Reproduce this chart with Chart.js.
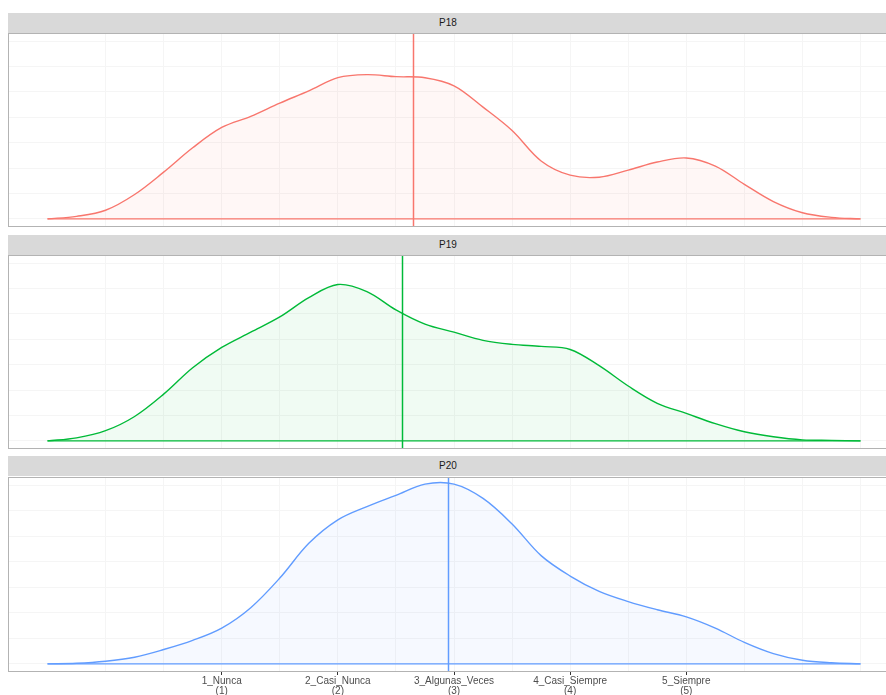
<!DOCTYPE html>
<html>
<head>
<meta charset="utf-8">
<script src="https://cdn.jsdelivr.net/npm/chart.js@4/dist/chart.umd.min.js"></script>
<style>
  html, body { margin: 0; padding: 0; background: #fff; overflow: hidden; width: 886px; height: 695px; }
  .strip { position: absolute; left: 8px; width: 892px; height: 20px; background: #d9d9d9;
           font: 10px "Liberation Sans", Arial, sans-serif; color: #1a1a1a; line-height: 20px; }
  .strip span { position: absolute; left: 0; width: 880px; text-align: center; }
  canvas { position: absolute; left: 8px; }
</style>
</head>
<body>
<div class="strip" style="top:13px"><span>P18</span></div>
<div class="strip" style="top:235px"><span>P19</span></div>
<div class="strip" style="top:456px"><span>P20</span></div>
<canvas id="c18" width="892" height="194" style="top:33px"></canvas>
<canvas id="c19" width="892" height="194" style="top:255px"></canvas>
<canvas id="c20" width="892" height="220" style="top:477px"></canvas>
<script>
// density estimates, x = response value
const xGrid = [-0.5, -0.25, 0, 0.25, 0.5, 0.75, 1, 1.25, 1.5, 1.75, 2, 2.25, 2.5, 2.75, 3,
               3.25, 3.5, 3.75, 4, 4.25, 4.5, 4.75, 5, 5.25, 5.5, 5.75, 6, 6.25, 6.5];

const p18 = [0, 0.005, 0.017, 0.048, 0.092, 0.14, 0.18, 0.202, 0.228, 0.252, 0.278, 0.284, 0.28, 0.278, 0.262,
             0.22, 0.174, 0.114, 0.086, 0.082, 0.096, 0.112, 0.12, 0.104, 0.068, 0.034, 0.012, 0.003, 0];
const p19 = [0, 0.006, 0.02, 0.048, 0.092, 0.144, 0.184, 0.214, 0.244, 0.282, 0.308, 0.294, 0.258, 0.23, 0.214,
             0.198, 0.19, 0.186, 0.18, 0.148, 0.108, 0.074, 0.054, 0.034, 0.018, 0.008, 0.002, 0.001, 0];
const p20 = [0, 0.001, 0.005, 0.013, 0.028, 0.046, 0.07, 0.11, 0.168, 0.236, 0.282, 0.308, 0.33, 0.352, 0.352,
             0.324, 0.274, 0.212, 0.172, 0.142, 0.122, 0.106, 0.092, 0.07, 0.042, 0.02, 0.007, 0.002, 0];

const means = [2.65, 2.55, 2.95];

const tickValues = [1, 2, 3, 4, 5];
const tickLabels = [['1_Nunca', '(1)'], ['2_Casi_Nunca', '(2)'], ['3_Algunas_Veces', '(3)'],
                    ['4_Casi_Siempre', '(4)'], ['5_Siempre', '(5)']];
const xGridLines = [0, 0.5, 1, 1.5, 2, 2.5, 3, 3.5, 4, 4.5, 5, 5.5, 6, 6.5];
const yGridLines = [0, 0.05, 0.1, 0.15, 0.2, 0.25, 0.3, 0.35];

Chart.defaults.font.family = '"Liberation Sans", Arial, sans-serif';

function rgba(hex, a) {
    const n = parseInt(hex.slice(1), 16);
    return 'rgba(' + (n >> 16) + ',' + ((n >> 8) & 255) + ',' + (n & 255) + ',' + a + ')';
}

function makePanel(canvasId, values, mean, color, showAxis) {
    const ctx = document.getElementById(canvasId).getContext('2d');

    return new Chart(ctx, {
        type: 'line',
        data: {
            datasets: [{
                data: xGrid.map((x, i) => ({ x: x, y: values[i] })),
                borderColor: color,
                backgroundColor: rgba(color, 0.06),
                borderWidth: 1.4,
                pointRadius: 0,
                fill: 'origin',
                tension: 0.35
            }, {
                // bottom outline of the density area
                data: xGrid.map(x => ({ x: x, y: 0 })),
                borderColor: color,
                borderWidth: 1.4,
                pointRadius: 0,
                fill: false
            }]
        },
        options: {
            responsive: false,
            animation: false,
            devicePixelRatio: 1,
            layout: { padding: 0 },
            plugins: {
                legend: { display: false },
                tooltip: { enabled: false }
            },
            scales: {
                x: {
                    type: 'linear',
                    min: -0.84,
                    max: 6.84,
                    afterBuildTicks: axis => { axis.ticks = xGridLines.map(v => ({ value: v })); },
                    grid: {
                        color: '#f5f5f5',
                        drawTicks: showAxis,
                        tickLength: 3,
                        tickColor: c => tickValues.includes(c.tick.value) ? '#333333' : 'rgba(0,0,0,0)'
                    },
                    border: { display: false },
                    ticks: {
                        display: showAxis,
                        autoSkip: false,
                        maxRotation: 0,
                        padding: 1,
                        color: '#4d4d4d',
                        font: { size: 10, lineHeight: 1.0 },
                        callback: v => {
                            const i = tickValues.indexOf(v);
                            return i >= 0 ? tickLabels[i] : '';
                        }
                    }
                },
                y: {
                    min: -0.016,
                    max: 0.366,
                    afterBuildTicks: axis => { axis.ticks = yGridLines.map(v => ({ value: v })); },
                    grid: { color: '#f5f5f5', drawTicks: false },
                    border: { display: false },
                    ticks: { display: false }
                }
            }
        },
        plugins: [{
            id: 'meanAndFrame',
            afterDatasetsDraw(chart) {
                const { ctx, chartArea, scales } = chart;
                const x = Math.round(scales.x.getPixelForValue(mean)) + 0.5;
                ctx.save();
                ctx.strokeStyle = color;
                ctx.lineWidth = 1.5;
                ctx.beginPath();
                ctx.moveTo(x, chartArea.top);
                ctx.lineTo(x, chartArea.bottom);
                ctx.stroke();

                ctx.strokeStyle = '#b3b3b3';
                ctx.lineWidth = 1;
                ctx.strokeRect(chartArea.left + 0.5, chartArea.top + 0.5,
                               chartArea.right - chartArea.left - 1, chartArea.bottom - chartArea.top - 1);
                ctx.restore();
            }
        }]
    });
}

makePanel('c18', p18, means[0], '#F8766D', false);
makePanel('c19', p19, means[1], '#00BA38', false);
makePanel('c20', p20, means[2], '#619CFF', true);
</script>
</body>
</html>
